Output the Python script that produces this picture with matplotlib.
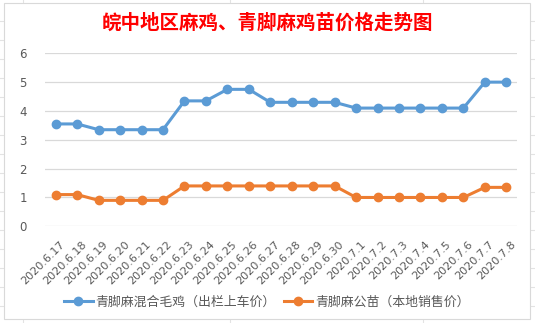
import matplotlib
matplotlib.use("Agg")
import matplotlib.pyplot as plt
from matplotlib.patches import Rectangle
from matplotlib.lines import Line2D
from matplotlib.transforms import ScaledTranslation

plt.rcParams['font.family'] = ['Noto Sans CJK SC', 'DejaVu Sans']

# --- data ---
dates = ['2020.6.17', '2020.6.18', '2020.6.19', '2020.6.20', '2020.6.21', '2020.6.22',
         '2020.6.23', '2020.6.24', '2020.6.25', '2020.6.26', '2020.6.27', '2020.6.28',
         '2020.6.29', '2020.6.30', '2020.7.1', '2020.7.2', '2020.7.3', '2020.7.4',
         '2020.7.5', '2020.7.6', '2020.7.7', '2020.7.8']
mixed_chicken = [3.55, 3.55, 3.35, 3.35, 3.35, 3.35, 4.35, 4.35, 4.75, 4.75, 4.3,
                 4.3, 4.3, 4.3, 4.1, 4.1, 4.1, 4.1, 4.1, 4.1, 5.0, 5.0]
male_chick = [1.1, 1.1, 0.9, 0.9, 0.9, 0.9, 1.4, 1.4, 1.4, 1.4, 1.4,
              1.4, 1.4, 1.4, 1.0, 1.0, 1.0, 1.0, 1.0, 1.0, 1.35, 1.35]
series_names = ['青脚麻混合毛鸡（出栏上车价）', '青脚麻公苗（本地销售价）']
yticks = [0, 1, 2, 3, 4, 5, 6]

W, H = 535, 323
fig = plt.figure(figsize=(W / 100, H / 100), dpi=100)

# faint spreadsheet cells behind the chart
for x in [23, 230, 423]:
    fig.add_artist(Line2D([x / W, x / W], [0, 1], color='#E3E3E3', lw=0.8, zorder=0))
for k in range(17):
    y = 21 + 19 * k
    fig.add_artist(Line2D([0, 1], [1 - y / H, 1 - y / H], color='#E3E3E3', lw=0.8, zorder=0))

# chart area
fig.add_artist(Rectangle((4 / W, 1 - 319 / H), 526 / W, 316 / H, facecolor='white',
                         edgecolor='#D9D9D9', lw=0.8, zorder=1))

ax = fig.add_axes([45 / W, 1 - 226.3 / H, 472 / W, 173 / H], zorder=2)
ax.patch.set_alpha(0)
x = range(len(dates))
ax.plot(x, mixed_chicken, color='#5B9BD5', lw=2.2, marker='o', ms=6, label=series_names[0],
        clip_on=False, zorder=3)
ax.plot(x, male_chick, color='#ED7D31', lw=2.2, marker='o', ms=6, label=series_names[1],
        clip_on=False, zorder=3)

ax.set_xlim(-0.5, len(dates) - 0.5)
ax.set_ylim(0, 6)
ax.set_yticks(yticks)
ax.grid(axis='y', color='#D9D9D9', lw=0.9)
ax.set_axisbelow(True)
for s in ax.spines.values():
    s.set_visible(False)
ax.tick_params(length=0, colors='#595959', labelsize=8.5)
ax.tick_params(axis='y', pad=13)
ax.set_xticks(list(x))
ax.set_xticklabels(dates, rotation=45, ha='right', rotation_mode='anchor',
                   family='DejaVu Sans', fontsize=8)
shift = ScaledTranslation(4 / 100, -8 / 100, fig.dpi_scale_trans)
for t in ax.get_xticklabels():
    t.set_transform(t.get_transform() + shift)
for t in ax.get_yticklabels():
    t.set_family('DejaVu Sans')

fig.text(267 / W, 1 - 23 / H, '皖中地区麻鸡、青脚麻鸡苗价格走势图', color='#FF0000',
         fontsize=14, fontweight='bold', ha='center', va='center')

fig.legend(loc='center', bbox_to_anchor=(267 / W, 1 - 302 / H), ncol=2, frameon=False,
           fontsize=9.3, labelcolor='#595959', handlelength=2.2, columnspacing=0.6,
           handletextpad=0.25)

fig.savefig('out.png', dpi=100)
